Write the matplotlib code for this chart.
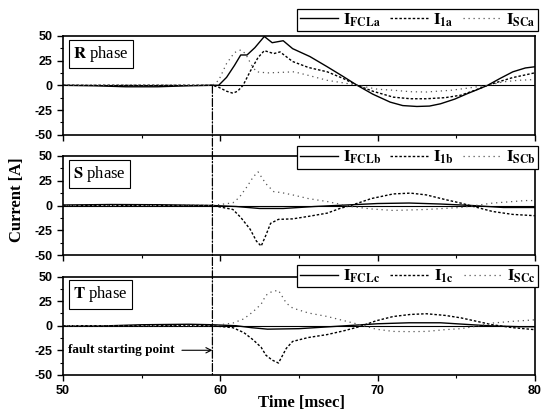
import matplotlib
matplotlib.use('Agg')
from matplotlib import pyplot as plt
from matplotlib.patches import ConnectionPatch
from matplotlib.ticker import MultipleLocator

plt.rcParams['mathtext.fontset'] = 'stix'
plt.rcParams['font.family'] = ['Liberation Serif', 'DejaVu Serif']
plt.rcParams['axes.unicode_minus'] = False

fault_t = 59.5

# R phase
r_fcl_t = [50, 52, 54, 56, 58, 59.5, 59.9, 60.4, 60.9, 61.3, 61.7, 62.2, 62.8, 63.3, 64.0,
           64.6, 65.7, 66.8, 67.8, 68.7, 69.7, 70.8, 71.6, 72.5, 73.3, 74.0, 74.9, 75.7,
           76.4, 77.0, 77.8, 78.6, 79.4, 80]
r_fcl = [0, -0.5, -1.5, -1.5, -0.5, 0, 0, 8, 20, 30.6, 30.6, 38, 49.3, 43, 45,
         37, 29, 18.7, 9, 0, -9, -17, -20.5, -21.4, -21, -18.7, -14, -8.5,
         -4, 0, 7, 13.6, 17.5, 18.7]
r_i1_t = [50, 59.5, 59.9, 60.4, 60.8, 61.1, 61.45, 61.9, 62.4, 62.8, 63.4, 63.8, 64.6, 65.6,
          66.8, 67.8, 68.7, 69.7, 71.0, 72.1, 73.1, 74.3, 75.3, 76.2, 77.0, 77.8, 78.6, 79.4, 80]
r_i1 = [0, 0, -2, -6, -8, -6, 0, 14, 28, 35, 32, 33.7, 24, 18,
        13.6, 7, 0, -6, -12, -13.6, -13.6, -12.5, -10, -5, 0, 4, 7.8, 10.5, 12.6]
r_sc_t = [50, 59.5, 59.9, 60.4, 60.9, 61.3, 61.6, 62.0, 62.3, 63.0, 63.8, 64.7, 65.6, 66.8,
          67.8, 68.7, 70.0, 71.0, 72.1, 73.1, 74.7, 75.9, 77.0, 78.0, 78.9, 80]
r_sc = [0, 0, 5, 22, 33, 35.7, 32, 20, 13.6, 12.5, 13, 13.6, 10, 5,
        2.5, 0, -4, -5, -6.5, -6.8, -5, -2.5, 0, 3.5, 5, 5.8]

# S phase
s_fcl_t = [50, 53, 56, 59.5, 61, 62.5, 64, 66, 68, 70, 72, 74, 76, 78, 80]
s_fcl = [0.5, 1, 0.8, 0, -1, -3, -3, -1, 0.5, 2, 2.5, 1.5, 0, -2, -2]
s_i1_t = [50, 59.5, 60.8, 61.3, 61.9, 62.3, 62.6, 62.9, 63.2, 63.7, 64.6, 65.6, 66.8, 67.6,
          68.3, 69.6, 71.0, 72.1, 73.1, 74.3, 75.3, 76.1, 77.3, 78.6, 80]
s_i1 = [0, 0, -4, -12, -24, -36, -41, -30, -18, -14, -13.5, -11, -7.7, -3,
        0, 7, 11.7, 12.5, 10.7, 6, 2.4, -1, -6, -9, -10.3]
s_sc_t = [50, 59.5, 60.8, 61.2, 61.7, 62.1, 62.4, 62.9, 63.4, 63.9, 64.6, 65.6, 66.8, 68.3,
          69.6, 71.0, 73.1, 75.3, 77.3, 79.4, 80]
s_sc = [0, 0, 2.7, 8, 19, 29, 34, 22, 14, 13, 10.7, 7, 4, -1,
        -3.5, -5, -4, -2, 2.4, 5, 5]

# T phase
t_fcl_t = [50, 52, 55, 58, 59.5, 61, 62, 63, 65, 66.5, 68, 70, 72, 74, 75.5, 77, 79, 80]
t_fcl = [-0.5, -0.5, 1, 1.5, 1, 0, -2, -3.5, -3, -1.5, 0, 2, 3, 3, 1.5, 0, -1, -1]
t_i_t = [50, 59.5, 60.8, 61.5, 62.1, 62.6, 62.9, 63.3, 63.7, 64.2, 64.6, 65.6, 66.8, 67.9,
         68.9, 69.9, 71.0, 72.1, 73.1, 74.3, 75.3, 76.3, 77.3, 78.6, 80]
t_i1 = [0, 0, -2, -7, -14.5, -22, -30, -35, -38, -23, -16, -12, -9, -5,
        -0.7, 5, 9.4, 11.5, 12.2, 10.5, 8, 4.5, 1, -2, -4]
t_sc = [0, 0, 2.7, 7, 14.5, 22, 31, 35, 36, 23, 18, 13, 9.4, 5,
        1, -3.5, -5.8, -6, -5.8, -4, -3, -0.5, 2.7, 4.5, 6]

panels = [
    ('R', 'a', r_fcl_t, r_fcl, r_i1_t, r_i1, r_sc_t, r_sc),
    ('S', 'b', s_fcl_t, s_fcl, s_i1_t, s_i1, s_sc_t, s_sc),
    ('T', 'c', t_fcl_t, t_fcl, t_i_t, t_i1, t_i_t, t_sc),
]

fig = plt.figure(figsize=(5.43, 4.16), dpi=100)
ax_pos = [[0.116, 0.676, 0.869, 0.238],
          [0.116, 0.387, 0.869, 0.238],
          [0.116, 0.099, 0.869, 0.236]]
leg_box = [(0.547, 0.916, 0.444, 0.072),
           (0.547, 0.5865, 0.444, 0.0697),
           (0.547, 0.305, 0.444, 0.0625)]

axes = []
for i, (ph, sfx, ft, fv, it, iv, st, sv) in enumerate(panels):
    ax = fig.add_axes(ax_pos[i])
    ax.axhline(0, color='black', lw=0.8, zorder=1)
    ax.plot(ft, fv, color='black', lw=1.0, label=r'$\mathbf{I}_{\mathbf{FCL%s}}$' % sfx)
    ax.plot(it, iv, color='black', lw=1.0, dashes=(1.8, 1.4),
            label=r'$\mathbf{I}_{\mathbf{1%s}}$' % sfx)
    ax.plot(st, sv, color='#555555', lw=0.9, dashes=(1, 3),
            label=r'$\mathbf{I}_{\mathbf{SC%s}}$' % sfx)
    ax.set_xlim(50, 80)
    ax.set_ylim(-50, 50)
    ax.xaxis.set_major_locator(MultipleLocator(10))
    ax.xaxis.set_minor_locator(MultipleLocator(5))
    ax.yaxis.set_major_locator(MultipleLocator(25))
    ax.yaxis.set_minor_locator(MultipleLocator(12.5))
    ax.tick_params(which='major', direction='out', length=4, width=1.0)
    ax.tick_params(which='minor', direction='out', length=2.5, width=0.8)
    for s in ax.spines.values():
        s.set_linewidth(1.2)
    for lab in ax.get_yticklabels() + ax.get_xticklabels():
        lab.set_family('Liberation Sans')
        lab.set_fontweight('bold')
        lab.set_fontsize(9)
    if i < 2:
        ax.tick_params(labelbottom=False)
    ax.text(0.021, 0.92, r'$\mathbf{%s}$ phase' % ph, transform=ax.transAxes,
            ha='left', va='top', fontsize=12,
            bbox=dict(boxstyle='square,pad=0.25', fc='white', ec='black', lw=0.8))
    leg = ax.legend(loc='center', bbox_to_anchor=leg_box[i], bbox_transform=fig.transFigure,
                    mode='expand', ncol=3, fontsize=12, handlelength=2.3, handletextpad=0.3,
                    borderaxespad=0, borderpad=0.15, fancybox=False, framealpha=1,
                    edgecolor='black')
    leg.get_frame().set_linewidth(0.9)
    axes.append(ax)

ax1, ax2, ax3 = axes

# fault line running through all three panels
con = ConnectionPatch(xyA=(fault_t, 0), coordsA=ax1.transData,
                      xyB=(fault_t, -50), coordsB=ax3.transData,
                      color='black', lw=0.9, linestyle='-.')
fig.add_artist(con)

ax3.annotate('fault starting point', xy=(fault_t, -25), xytext=(50.35, -25),
             ha='left', va='center', fontsize=9.5, fontweight='bold',
             arrowprops=dict(arrowstyle='->', color='black', lw=0.8, shrinkA=3, shrinkB=0))

fig.text(0.032, 0.52, 'Current [A]', rotation=90, ha='center', va='center',
         fontsize=12, fontweight='bold')
fig.text(0.556, 0.031, 'Time [msec]', ha='center', va='center',
         fontsize=12, fontweight='bold')

plt.savefig('out.png', dpi=100)
